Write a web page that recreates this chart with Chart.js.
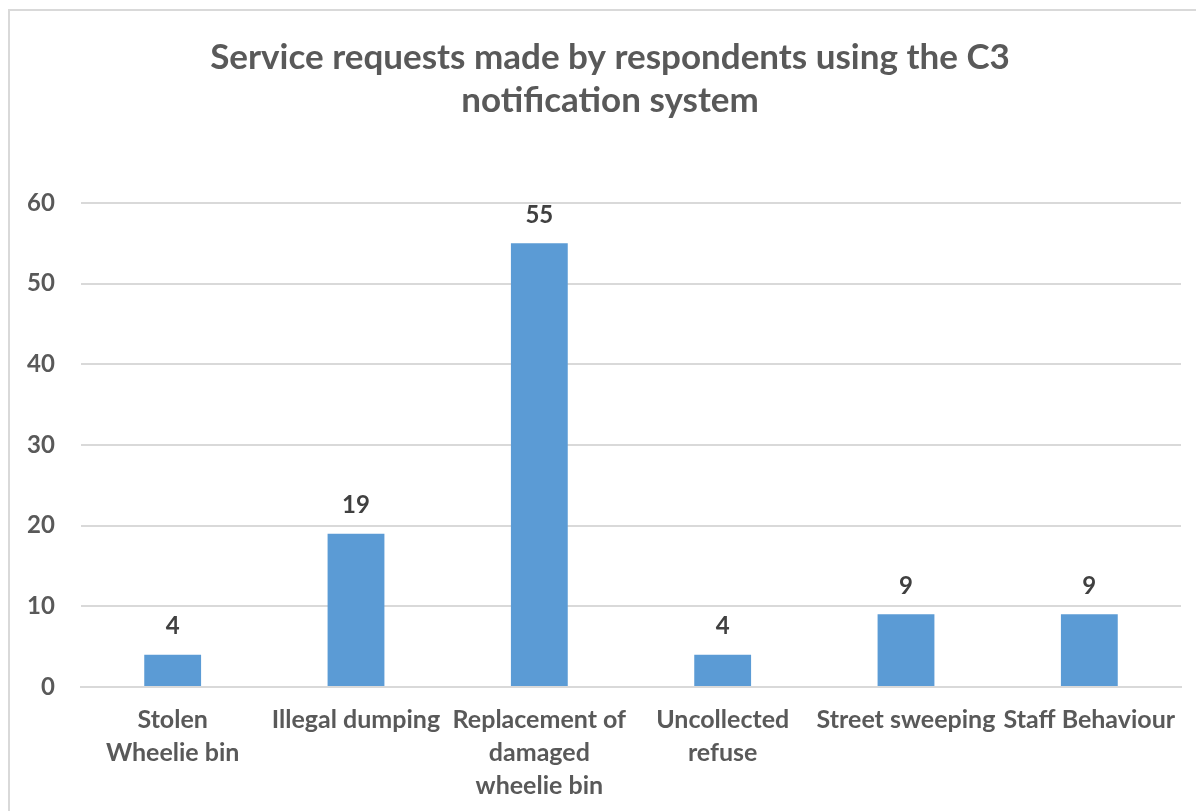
<!DOCTYPE html>
<html>
<head>
<meta charset="utf-8">
<script src="https://cdn.jsdelivr.net/npm/chart.js@4"></script>
<style>
  html, body { margin: 0; padding: 0; background: #fff; overflow: hidden; }
  #frame {
    position: absolute; left: 8px; top: 9px; width: 1300px; height: 900px;
    border-top: 2px solid #d9d9d9; border-left: 2px solid #d9d9d9;
  }
  #chart { position: absolute; left: 0; top: 0; }
</style>
</head>
<body>
<div id="frame"></div>
<canvas id="chart" width="1196" height="811"></canvas>
<script>
// Chart data
const categories = [
    ['Stolen', 'Wheelie bin'],
    'Illegal dumping',
    ['Replacement of', 'damaged', 'wheelie bin'],
    ['Uncollected', 'refuse'],
    'Street sweeping',
    'Staff Behaviour'
];
const requests = [4, 19, 55, 4, 9, 9];
const yTicks = [0, 10, 20, 30, 40, 50, 60];

const fontName = 'Lato, "Open Sans", sans-serif';

// Simple value labels above each bar
const barLabels = {
    id: 'barLabels',
    afterDatasetsDraw(chart) {
        const ctx = chart.ctx;
        const meta = chart.getDatasetMeta(0);
        ctx.save();
        ctx.fillStyle = '#404040';
        ctx.font = 'bold 24px ' + fontName;
        ctx.textAlign = 'center';
        ctx.textBaseline = 'middle';
        meta.data.forEach((bar, i) => {
            ctx.fillText(requests[i], bar.x, bar.y - 28);
        });
        ctx.restore();
    }
};

const ctx = document.getElementById('chart').getContext('2d');
const chart = new Chart(ctx, {
    type: 'bar',
    data: {
        labels: categories,
        datasets: [{
            label: 'Service requests',
            data: requests,
            backgroundColor: '#5b9bd5',
            borderWidth: 0,
            categoryPercentage: 1,
            barPercentage: 0.31
        }]
    },
    options: {
        responsive: false,
        maintainAspectRatio: false,
        animation: false,
        layout: { padding: { left: 39, right: 15, top: 36, bottom: 8 } },
        plugins: {
            legend: { display: false },
            tooltip: { enabled: false },
            title: {
                display: true,
                text: ['Service requests made by respondents using the C3', 'notification system'],
                color: '#595959',
                font: { family: fontName, size: 35, weight: 'bold', lineHeight: 1.24 },
                padding: { top: 0, bottom: 80 }
            }
        },
        scales: {
            x: {
                afterFit(scale) {
                    scale.height = 116;
                },
                grid: { display: false, drawTicks: false },
                border: { display: true, color: '#d9d9d9', width: 2 },
                ticks: {
                    color: '#595959',
                    font: { family: fontName, size: 25, weight: 'bold', lineHeight: 1.32 },
                    padding: 16,
                    maxRotation: 0,
                    autoSkip: false
                }
            },
            y: {
                min: 0,
                max: 60,
                afterBuildTicks(scale) {
                    scale.ticks = yTicks.map(v => ({ value: v }));
                },
                afterFit(scale) {
                    scale.width = 42;
                },
                grid: { color: '#d9d9d9', lineWidth: 2, drawTicks: false },
                border: { display: false },
                ticks: {
                    color: '#595959',
                    font: { family: fontName, size: 24, weight: 'bold' },
                    mirror: true,
                    crossAlign: 'far',
                    padding: -54
                }
            }
        }
    },
    plugins: [barLabels]
});
</script>
</body>
</html>
